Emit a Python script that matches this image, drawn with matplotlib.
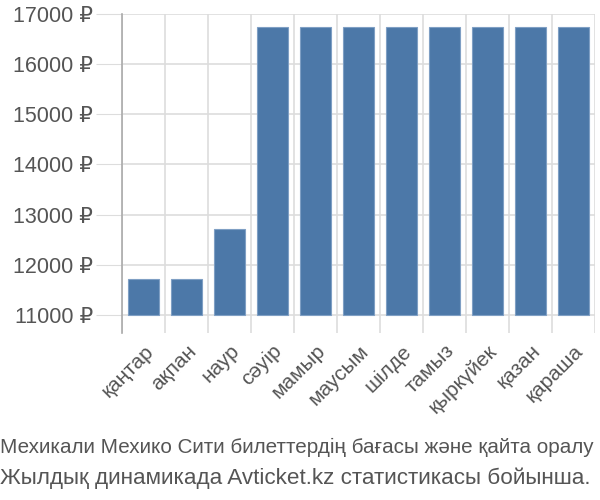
import numpy as np
import matplotlib.pyplot as plt

plt.rcParams['font.family'] = ['Liberation Sans', 'DejaVu Sans']

months = ['қаңтар', 'ақпан', 'наур', 'сәуір', 'мамыр', 'маусым', 'шілде',
          'тамыз', 'қыркүйек', 'қазан', 'қараша']
prices = [11718, 11718, 12714, 16740, 16740, 16740, 16740, 16740, 16740, 16740, 16740]
yticks = [11000, 12000, 13000, 14000, 15000, 16000, 17000]
base = 11000
caption_lines = ['Мехикали Мехико Сити билеттердің бағасы және қайта оралу',
                 'Жылдық динамикада Avticket.kz статистикасы бойынша.']

fig = plt.figure(figsize=(6, 5), dpi=100)
ax = fig.add_axes([122 / 600, 1 - 333 / 500, 473 / 600, 319 / 500])

x = np.arange(len(months))
ax.bar(x, np.array(prices) - base, bottom=base, width=0.73,
       color='#4c78a8', edgecolor='#7f9fc4', linewidth=0.8, zorder=3)

ax.set_xlim(-0.5, len(months) - 0.5)
ax.set_ylim(10640, 17000)

ax.set_yticks(yticks)
ax.set_yticklabels([f'{v} ₽' for v in yticks])
ax.set_xticks(x)
ax.set_xticklabels(months, rotation=45, ha='right', rotation_mode='anchor')
ax.set_xticks(np.arange(len(months) + 1) - 0.5, minor=True)

ax.tick_params(axis='y', length=19, color='#dddddd', labelsize=15.5,
               labelcolor='#555555', pad=2)
ax.tick_params(axis='x', which='major', length=0, labelsize=15,
               labelcolor='#555555', pad=6)
ax.tick_params(axis='x', which='minor', length=0)

ax.grid(axis='y', color='#dddddd', linewidth=1.2, zorder=0)
ax.grid(axis='x', which='minor', color='#dddddd', linewidth=1.2, zorder=0)

for s in ['top', 'right', 'bottom']:
    ax.spines[s].set_visible(False)
ax.spines['left'].set_color('#aaaaaa')
ax.spines['left'].set_linewidth(1.2)

# first line is squeezed to fit the width in the original
fig.text(0.0, 1 - 447 / 500, caption_lines[0], fontsize=14.9, color='#555555',
         ha='left', va='center')
fig.text(0.0, 1 - 478 / 500, caption_lines[1], fontsize=16.2, color='#555555',
         ha='left', va='center')

fig.savefig('out.png', dpi=100)
